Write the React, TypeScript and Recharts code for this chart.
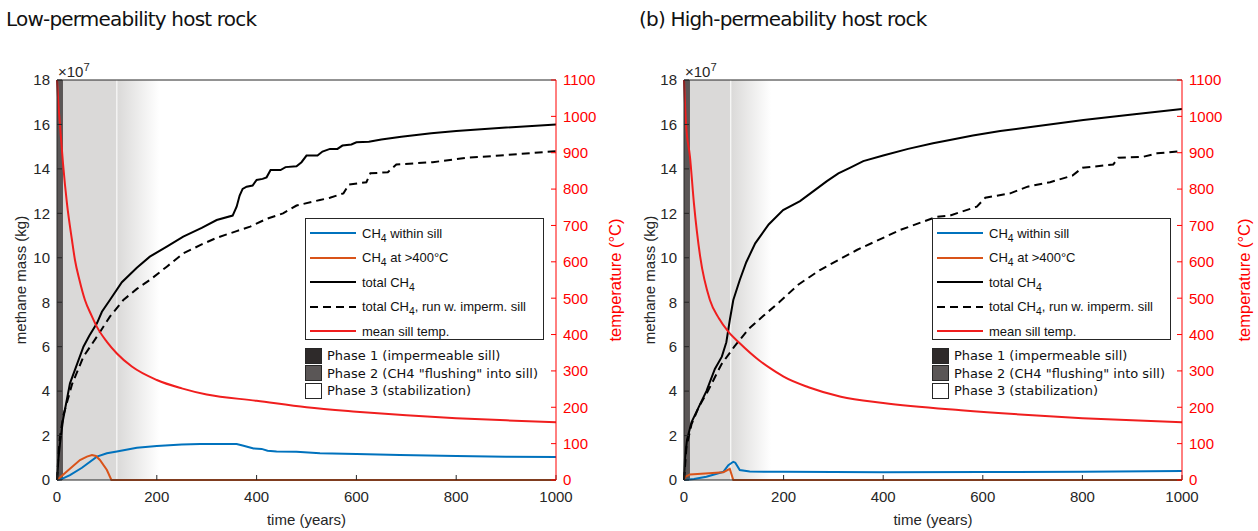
import React from "react";
import {
  ComposedChart,
  Line,
  XAxis,
  YAxis,
  ReferenceArea,
  ReferenceLine
} from "recharts";

type Pt = [number, number];

// time ticks / axis ticks
const timeTicks = [0, 200, 400, 600, 800, 1000];
const massTicks = [0, 2, 4, 6, 8, 10, 12, 14, 16, 18];
const tempTicks = [0, 100, 200, 300, 400, 500, 600, 700, 800, 900, 1000, 1100];

// (a) low-permeability host rock, methane mass in 1e7 kg, temperature in °C
const lowTotal: Pt[] = [
  [0, 0], [3, 1.0], [6, 1.65], [12, 2.7], [26, 4.35], [40, 5.2], [53, 6.0], [65, 6.5],
  [80, 7.05], [90, 7.57], [106, 8.1], [130, 8.9], [160, 9.55], [186, 10.05], [220, 10.5],
  [253, 10.95], [290, 11.35], [320, 11.7], [352, 11.9], [360, 12.3], [366, 12.8], [372, 13.1],
  [380, 13.2], [392, 13.25], [400, 13.5], [412, 13.55], [420, 13.62], [428, 13.95], [448, 13.95],
  [458, 14.08], [480, 14.12], [490, 14.3], [500, 14.6], [522, 14.6], [532, 14.78], [547, 14.9],
  [562, 14.9], [572, 15.05], [590, 15.1], [600, 15.2], [625, 15.22], [650, 15.32], [690, 15.45],
  [750, 15.6], [800, 15.7], [900, 15.86], [1000, 16.0]
];
const lowImperm: Pt[] = [
  [0, 0], [3, 1.2], [6, 1.95], [12.6, 2.9], [30, 4.3], [53, 5.55], [80, 6.45], [106, 7.35],
  [133, 8.1], [160, 8.6], [186, 9.0], [220, 9.6], [253, 10.2], [290, 10.6], [320, 10.9],
  [360, 11.2], [387, 11.4], [420, 11.75], [453, 12.0], [480, 12.35], [527, 12.6], [547, 12.7],
  [574, 12.9], [585, 13.3], [620, 13.4], [628, 13.8], [663, 13.85], [680, 14.2], [753, 14.3],
  [820, 14.5], [888, 14.6], [1000, 14.8]
];
const lowSill: Pt[] = [
  [0, 0], [10, 0.05], [26, 0.22], [50, 0.55], [80, 1.05], [100, 1.2], [120, 1.28], [160, 1.45],
  [200, 1.53], [250, 1.6], [287, 1.62], [360, 1.62], [372, 1.55], [394, 1.42], [410, 1.4],
  [422, 1.32], [440, 1.28], [480, 1.27], [527, 1.2], [600, 1.17], [687, 1.12], [800, 1.08],
  [900, 1.05], [1000, 1.03]
];
const lowHot: Pt[] = [
  [0, 0], [19, 0.37], [46, 0.9], [60, 1.05], [70, 1.12], [78, 1.08], [86, 0.9], [100, 0.45],
  [109, 0], [1000, 0]
];
const lowTemp: Pt[] = [
  [0, 1100], [3, 1030], [6, 976], [12, 871], [20, 760], [30, 660], [36, 605], [45, 550],
  [56, 495], [70, 450], [80, 421], [100, 380], [120, 348], [150, 312], [200, 275], [250, 252],
  [300, 235], [400, 218], [500, 200], [600, 188], [700, 178], [800, 170], [900, 164], [1000, 159]
];

// (b) high-permeability host rock
const highTotal: Pt[] = [
  [0, 0], [2, 1.0], [6, 1.8], [15, 2.6], [30, 3.3], [45, 4.0], [62, 5.0], [76, 5.55], [85, 6.2],
  [92, 7.2], [99, 8.1], [112, 9.0], [125, 9.8], [143, 10.65], [170, 11.5], [199, 12.15],
  [233, 12.55], [260, 13.0], [287, 13.45], [310, 13.8], [333, 14.05], [360, 14.35], [400, 14.6],
  [450, 14.9], [500, 15.15], [534, 15.3], [580, 15.5], [635, 15.7], [700, 15.9], [802, 16.2],
  [900, 16.45], [1000, 16.7]
];
const highImperm: Pt[] = [
  [0, 0], [5, 1.5], [15, 2.5], [30, 3.3], [48, 4.0], [75, 5.2], [101, 6.0], [130, 6.8],
  [160, 7.4], [191, 8.0], [230, 8.8], [273, 9.45], [347, 10.35], [434, 11.25], [508, 11.85],
  [534, 11.9], [588, 12.3], [605, 12.7], [655, 12.9], [690, 13.2], [735, 13.4], [780, 13.7],
  [800, 14.05], [862, 14.2], [872, 14.5], [923, 14.55], [950, 14.7], [1000, 14.8]
];
const highSill: Pt[] = [
  [0, 0], [20, 0.05], [45, 0.15], [79, 0.37], [89, 0.67], [99, 0.82], [103, 0.78], [112, 0.45],
  [132, 0.38], [200, 0.37], [400, 0.35], [600, 0.36], [800, 0.37], [1000, 0.4]
];
const highHot: Pt[] = [
  [0, 0], [3, 0.15], [12, 0.25], [50, 0.3], [79, 0.35], [92, 0.5], [99, 0], [1000, 0]
];
const highTemp: Pt[] = [
  [0, 1100], [4, 980], [12, 889], [20, 760], [32.5, 614], [52, 495], [70, 445], [89, 408],
  [112, 376], [150, 330], [179, 302], [200, 284], [250, 255], [315, 229], [400, 212],
  [556, 192], [700, 178], [800, 170], [900, 164], [1000, 159]
];

const BLUE = "#0072BD";
const ORANGE = "#D95319";
const RED = "#f01e1e";
const INK = "#262626";
const W = 629;
const H = 531;
const ARIAL = "'Liberation Sans', Arial, sans-serif";
const VERD = "'DejaVu Sans', sans-serif";

const rows = (pts: Pt[]) => pts.map(([t, v]) => ({ t, v }));

const ch4 = (rest: string) => (
  <>
    CH<sub style={{ fontSize: "0.8em", verticalAlign: "-0.35em", lineHeight: 0 }}>4</sub>
    {rest}
  </>
);

const lineLegend = [
  { color: BLUE, dash: false, label: ch4(" within sill") },
  { color: ORANGE, dash: false, label: ch4(" at >400°C") },
  { color: "#000", dash: false, label: <>total {ch4("")}</> },
  { color: "#000", dash: true, label: <>total {ch4(", run w. imperm. sill")}</> },
  { color: RED, dash: false, label: <>mean sill temp.</> }
];

const phaseLegend = [
  { color: "#2e2a2a", label: "Phase 1 (impermeable sill)" },
  { color: "#5a5656", label: 'Phase 2 (CH4 "flushing" into sill)' },
  { color: "#ffffff", label: "Phase 3 (stabilization)" }
];

interface PanelProps {
  left: number;
  title: string;
  titleX: number;
  plotLeft: number;
  plotRight: number;
  total: Pt[];
  imperm: Pt[];
  sill: Pt[];
  hot: Pt[];
  temp: Pt[];
  phase1End: number;
  phase2End: number;
  fadeEnd: number;
  gradId: string;
}

function Panel(p: PanelProps) {
  const rightW = W - p.plotRight;
  const cx = (p.plotLeft + p.plotRight) / 2;
  const legX = p.plotLeft + 248;
  return (
    <div style={{ position: "absolute", left: p.left, top: 0, width: W, height: H }}>
      <ComposedChart width={W} height={H} margin={{ top: 79, right: 0, bottom: 0, left: 0 }}>
        <defs>
          <linearGradient id={p.gradId} x1="0" y1="0" x2="1" y2="0">
            <stop offset="0%" stopColor="#dad9d8" />
            <stop offset="100%" stopColor="#ffffff" />
          </linearGradient>
        </defs>
        <XAxis
          xAxisId="x"
          type="number"
          dataKey="t"
          domain={[0, 1000]}
          ticks={timeTicks}
          interval={0}
          height={51}
          tickSize={-5}
          tickMargin={16}
          axisLine={{ stroke: INK }}
          tickLine={{ stroke: INK }}
          tick={{ fill: INK, fontSize: 15, fontFamily: ARIAL }}
        />
        <XAxis
          xAxisId="top"
          orientation="top"
          type="number"
          domain={[0, 1000]}
          ticks={timeTicks}
          interval={0}
          height={1}
          tickSize={-5}
          axisLine={{ stroke: INK }}
          tickLine={{ stroke: INK }}
          tick={() => <g />}
        />
        <YAxis
          yAxisId="mass"
          type="number"
          domain={[0, 18]}
          ticks={massTicks}
          interval={0}
          width={p.plotLeft}
          tickSize={-5}
          tickMargin={12}
          axisLine={{ stroke: INK }}
          tickLine={{ stroke: INK }}
          tick={{ fill: INK, fontSize: 15, fontFamily: ARIAL }}
        />
        <YAxis
          yAxisId="temp"
          orientation="right"
          type="number"
          domain={[0, 1100]}
          ticks={tempTicks}
          interval={0}
          width={rightW}
          tickSize={-5}
          tickMargin={12}
          axisLine={{ stroke: "#ff0000" }}
          tickLine={{ stroke: "#ff0000" }}
          tick={{ fill: "#ff0000", fontSize: 15, fontFamily: ARIAL }}
        />
        <ReferenceArea xAxisId="x" yAxisId="mass" x1={p.phase1End} x2={p.phase2End} fill="#dad9d8" fillOpacity={1} stroke="none" />
        <ReferenceArea xAxisId="x" yAxisId="mass" x1={p.phase2End} x2={p.fadeEnd} fill={`url(#${p.gradId})`} fillOpacity={1} stroke="none" />
        <ReferenceArea xAxisId="x" yAxisId="mass" x1={0} x2={p.phase1End} fill="#5a5656" fillOpacity={1} stroke="none" />
        <ReferenceLine xAxisId="x" yAxisId="mass" x={p.phase2End} stroke="#ffffff" strokeWidth={1} />
        <Line xAxisId="x" yAxisId="mass" data={rows(p.sill)} dataKey="v" stroke={BLUE} strokeWidth={2} dot={false} isAnimationActive={false} />
        <Line xAxisId="x" yAxisId="mass" data={rows(p.hot)} dataKey="v" stroke={ORANGE} strokeWidth={2} dot={false} isAnimationActive={false} />
        <Line xAxisId="x" yAxisId="mass" data={rows(p.total)} dataKey="v" stroke="#000" strokeWidth={2} dot={false} isAnimationActive={false} />
        <Line xAxisId="x" yAxisId="mass" data={rows(p.imperm)} dataKey="v" stroke="#000" strokeWidth={2} strokeDasharray="8 5" dot={false} isAnimationActive={false} />
        <Line xAxisId="x" yAxisId="temp" data={rows(p.temp)} dataKey="v" type="monotone" stroke={RED} strokeWidth={2} dot={false} isAnimationActive={false} />
      </ComposedChart>

      <div style={{ position: "absolute", left: p.titleX, top: 7, fontFamily: VERD, fontSize: 20, letterSpacing: "-0.8px", lineHeight: "24px", color: "#111", whiteSpace: "nowrap" }}>
        {p.title}
      </div>
      <div style={{ position: "absolute", left: p.plotLeft + 1, top: 63, fontFamily: ARIAL, fontSize: 15, color: INK, whiteSpace: "nowrap" }}>
        ×10<sup style={{ fontSize: "0.75em", verticalAlign: "0.55em", lineHeight: 0 }}>7</sup>
      </div>
      <div style={{ position: "absolute", left: 20, top: 280, transform: "translate(-50%, -50%) rotate(-90deg)", fontFamily: ARIAL, fontSize: 15, color: INK, whiteSpace: "nowrap" }}>
        methane mass (kg)
      </div>
      <div style={{ position: "absolute", left: 615, top: 280, transform: "translate(-50%, -50%) rotate(-90deg)", fontFamily: ARIAL, fontSize: 16.5, color: "#ff0000", whiteSpace: "nowrap" }}>
        temperature (°C)
      </div>
      <div style={{ position: "absolute", left: cx, top: 519, transform: "translate(-50%, -50%)", fontFamily: ARIAL, fontSize: 15, color: INK, whiteSpace: "nowrap" }}>
        time (years)
      </div>

      <div style={{ position: "absolute", left: legX, top: 218, width: 239, height: 122, border: `1px solid ${INK}`, background: "#fff", boxSizing: "border-box" }}>
        {lineLegend.map((r, i) => (
          <div key={i} style={{ position: "absolute", left: 4, top: 3 + i * 24.6, height: 22, display: "flex", alignItems: "center", fontFamily: ARIAL, fontSize: 13, color: "#111", whiteSpace: "nowrap" }}>
            <svg width={46} height={4} style={{ marginRight: 6 }}>
              <line x1={0} y1={2} x2={46} y2={2} stroke={r.color} strokeWidth={2} strokeDasharray={r.dash ? "8 5" : undefined} />
            </svg>
            <span>{r.label}</span>
          </div>
        ))}
      </div>
      <div style={{ position: "absolute", left: legX, top: 347 }}>
        {phaseLegend.map((r, i) => (
          <div key={i} style={{ position: "absolute", left: 0, top: i * 17.6, height: 17, display: "flex", alignItems: "center", fontFamily: VERD, fontSize: 13, color: "#111", whiteSpace: "nowrap" }}>
            <span style={{ display: "inline-block", width: 15, height: 14, background: r.color, border: `1px solid ${INK}`, marginRight: 5 }} />
            <span>{r.label}</span>
          </div>
        ))}
      </div>
    </div>
  );
}

export default function App() {
  return (
    <div style={{ position: "absolute", left: 0, top: 0, width: 1258, height: 531, background: "#fff", overflow: "hidden" }}>
      <Panel
        left={0}
        title="Low-permeability host rock"
        titleX={6}
        plotLeft={57}
        plotRight={556}
        total={lowTotal}
        imperm={lowImperm}
        sill={lowSill}
        hot={lowHot}
        temp={lowTemp}
        phase1End={12}
        phase2End={120}
        fadeEnd={205}
        gradId="fadeLow"
      />
      <Panel
        left={629}
        title="(b) High-permeability host rock"
        titleX={10}
        plotLeft={55}
        plotRight={553}
        total={highTotal}
        imperm={highImperm}
        sill={highSill}
        hot={highHot}
        temp={highTemp}
        phase1End={12}
        phase2End={94}
        fadeEnd={175}
        gradId="fadeHigh"
      />
    </div>
  );
}
